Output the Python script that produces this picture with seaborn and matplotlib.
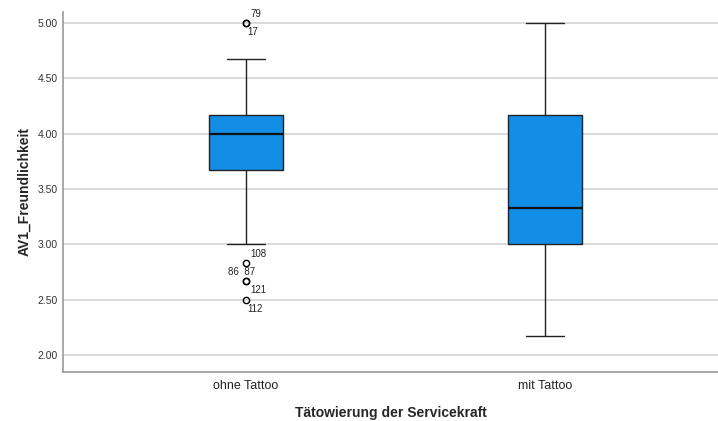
import numpy as np
import pandas as pd
import matplotlib
matplotlib.use('Agg')
import matplotlib.pyplot as plt
import seaborn as sns

# Raw scale values per group
ohne_tattoo = [2.50, 2.67, 2.67, 2.83, 3.00, 3.67, 3.67, 3.83, 3.83, 4.00, 4.00,
               4.00, 4.17, 4.17, 4.17, 4.17, 4.33, 4.50, 4.67, 5.00, 5.00]
mit_tattoo = [2.17, 2.50, 2.67, 2.83, 3.00, 3.00, 3.00, 3.17, 3.17, 3.33, 3.33,
              3.50, 3.67, 3.83, 4.00, 4.17, 4.17, 4.33, 4.50, 4.67, 5.00]
groups = ['ohne Tattoo', 'mit Tattoo']

# Case labels for outliers of the first group
outlier_values = [5.00, 2.83, 2.67, 2.50]
outlier_labels_above = ['79', '108', '86  87', '121']
outlier_labels_below = ['17', '', '', '112']

df = pd.DataFrame({
    'Tätowierung der Servicekraft': [groups[0]] * len(ohne_tattoo) + [groups[1]] * len(mit_tattoo),
    'AV1_Freundlichkeit': ohne_tattoo + mit_tattoo,
})

sns.set_style('white')
plt.rcParams['font.family'] = ['Liberation Sans', 'DejaVu Sans']

fig = plt.figure(figsize=(7.18, 4.21), dpi=100)
ax = fig.add_axes([0.0877, 0.1164, 0.9123, 0.8551])

sns.boxplot(data=df, x='Tätowierung der Servicekraft', y='AV1_Freundlichkeit',
            order=groups, color='#128EE6', saturation=1, width=0.25, ax=ax,
            linecolor='#222222', linewidth=1,
            medianprops=dict(color='#111111', linewidth=1.6),
            flierprops=dict(marker='o', markersize=4.5, markerfacecolor='none',
                            markeredgecolor='black', markeredgewidth=1.0),
            zorder=3)

# outlier case numbers
for val, above, below in zip(outlier_values, outlier_labels_above, outlier_labels_below):
    if above:
        ax.annotate(above, (0, val), xytext=(-3 if ' ' in above else 3, 3),
                    textcoords='offset points', fontsize=7, color='#222222',
                    ha='center' if ' ' in above else 'left', va='bottom')
    if below:
        ax.annotate(below, (0, val), xytext=(1, -3), textcoords='offset points',
                    fontsize=7, color='#222222', ha='left', va='top')

ax.set_xlim(-0.612, 1.579)
ax.set_ylim(1.846, 5.099)
ax.set_yticks([2.0, 2.5, 3.0, 3.5, 4.0, 4.5, 5.0])
ax.yaxis.set_major_formatter(matplotlib.ticker.FormatStrFormatter('%.2f'))
ax.yaxis.grid(True, color='#d4d4d4', linewidth=1.2, zorder=0)
ax.set_axisbelow(True)
ax.tick_params(axis='y', length=0, pad=4, labelsize=7.5, labelcolor='#333333')
ax.tick_params(axis='x', length=0, pad=6, labelsize=9, labelcolor='#222222')

for side in ['top', 'right']:
    ax.spines[side].set_visible(False)
for side in ['left', 'bottom']:
    ax.spines[side].set_color('#999999')
    ax.spines[side].set_linewidth(1.2)

ax.set_xlabel('Tätowierung der Servicekraft', fontsize=10, fontweight='bold', labelpad=10)
ax.set_ylabel('AV1_Freundlichkeit', fontsize=10, fontweight='bold', labelpad=4)

fig.savefig('out.png', dpi=100)
